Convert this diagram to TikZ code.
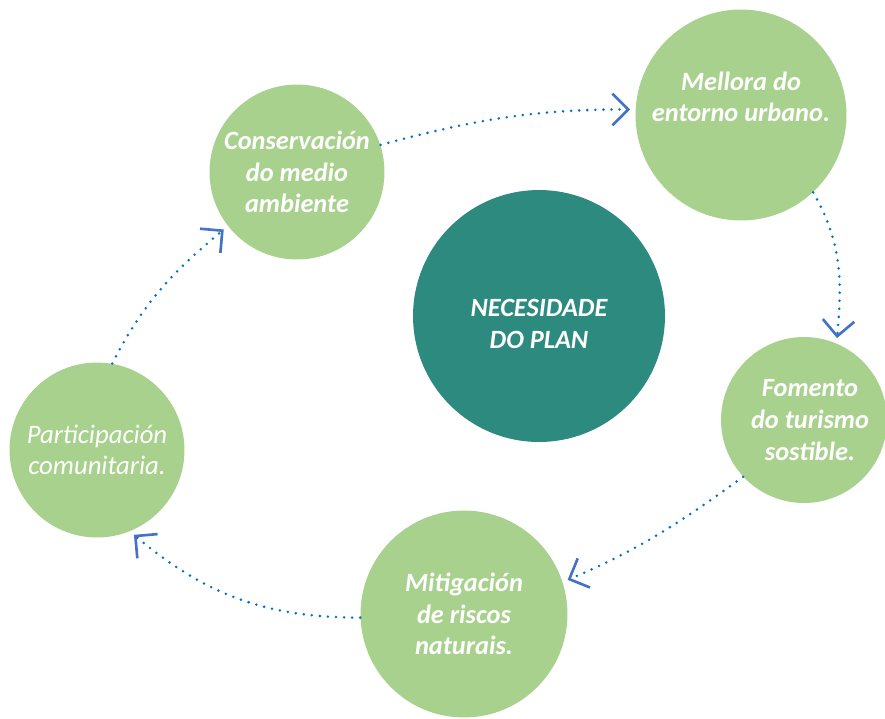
\documentclass[tikz,border=0pt]{standalone}
\usepackage{fontspec}
\setmainfont{Carlito}
\usepackage{xcolor}
\usetikzlibrary{arrows.meta}

\definecolor{leafgreen}{RGB}{169,209,142}
\definecolor{planteal}{RGB}{45,138,126}
\definecolor{dotblue}{RGB}{0,112,192}
\definecolor{tipblue}{RGB}{68,114,196}

\begin{document}
\begin{tikzpicture}[
    x=0.02cm, y=0.02cm,
    leaf/.style={circle, fill=leafgreen, inner sep=0pt, text=white, align=center,
                 font=\bfseries\itshape\fontsize{15}{18}\selectfont},
    hub/.style={circle, fill=planteal, inner sep=0pt},
    word/.style={text=white, align=center, inner sep=0pt,
                 font=\bfseries\itshape\fontsize{15}{18}\selectfont},
    link/.style={dotblue, line width=1.6pt, line cap=round, dash pattern=on 0pt off 4.6pt,
                 -{Straight Barb[color=tipblue, length=9pt, width=18pt, line width=1.5pt]},
                 shorten >=3pt}
]
\useasboundingbox (0,0) rectangle (885,-718);

\node[leaf, minimum size=3.5cm]  (cons) at (297,-172) {Conservación\\do medio\\ambiente};
\node[leaf, minimum size=4.22cm] (mell) at (741,-115) {};
\node[hub,  minimum size=5.04cm] (nec)  at (539,-316) {};
\node[leaf, minimum size=3.32cm] (fom)  at (804,-420) {};
\node[leaf, minimum size=4.14cm] (mit)  at (464,-614) {Mitigación\\de riscos\\naturais.};
\node[leaf, minimum size=3.5cm,
      font=\mdseries\itshape\fontsize{15.2}{17.6}\selectfont] (part) at (97,-450) {Participación\\comunitaria.};

\node[word] (mellText) at ([yshift=0.36cm]mell.center) {Mellora do\\entorno urbano.};
\node[word] (necText)  at ([yshift=-0.16cm]nec.center) {NECESIDADE\\DO PLAN};
\node[word] (fomText)  at ([xshift=0.12cm]fom.center)  {Fomento\\do turismo\\sostible.};

\draw[link] (cons.18)  to[out=15,  in=180] (mell.177);
\draw[link] (mell.-47) to[out=-60, in=85]  (fom.67);
\draw[link] (fom.223)  to[out=216, in=23]  (mit.18);
\draw[link] (mit.182)  to[out=180, in=-40] (part.-68);
\draw[link] (part.80)  to[out=63,  in=220] (cons.218);
\end{tikzpicture}
\end{document}
